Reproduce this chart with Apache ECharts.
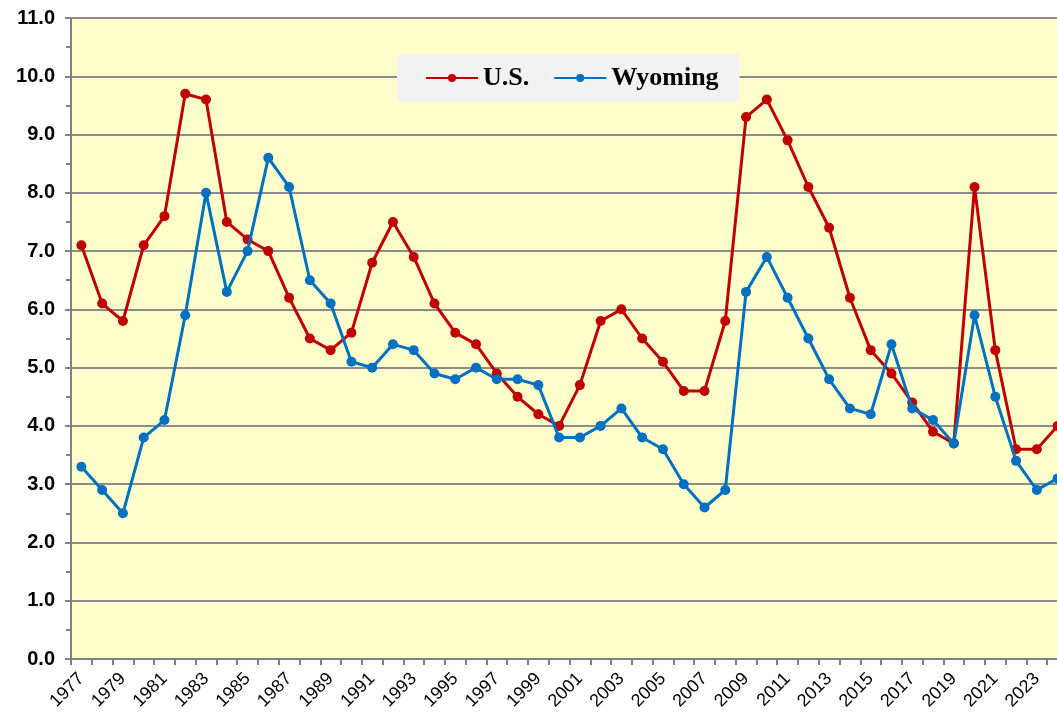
<!DOCTYPE html>
<html><head><meta charset="utf-8">
<script src="https://cdn.jsdelivr.net/npm/echarts@6/dist/echarts.min.js"></script>
<style>html,body{margin:0;padding:0;background:#fff}#c{width:1057px;height:715px}</style>
</head><body><div id="c"></div>
<script>
const years = [];
for (let y = 1977; y <= 2024; y++) years.push(String(y));
const usValues = [7.1,6.1,5.8,7.1,7.6,9.7,9.6,7.5,7.2,7.0,6.2,5.5,5.3,5.6,6.8,7.5,6.9,6.1,5.6,5.4,4.9,4.5,4.2,4.0,4.7,5.8,6.0,5.5,5.1,4.6,4.6,5.8,9.3,9.6,8.9,8.1,7.4,6.2,5.3,4.9,4.4,3.9,3.7,8.1,5.3,3.6,3.6,4.0];
const wyValues = [3.3,2.9,2.5,3.8,4.1,5.9,8.0,6.3,7.0,8.6,8.1,6.5,6.1,5.1,5.0,5.4,5.3,4.9,4.8,5.0,4.8,4.8,4.7,3.8,3.8,4.0,4.3,3.8,3.6,3.0,2.6,2.9,6.3,6.9,6.2,5.5,4.8,4.3,4.2,5.4,4.3,4.1,3.7,5.9,4.5,3.4,2.9,3.1];
const seriesNames = ['U.S.', 'Wyoming'];

const chart = echarts.init(document.getElementById('c'));
chart.setOption({
  animation: false,
  backgroundColor: '#ffffff',
  grid: { left: 71, width: 997, top: 18, bottom: 56, show: true, backgroundColor: '#FFFFCC', borderWidth: 0,
          outerBoundsMode: 'none', containLabel: false },
  legend: {
    left: 397, top: 54,
    backgroundColor: '#F2F2F2',
    padding: [11, 21, 11, 28],
    itemGap: 24,
    itemWidth: 52, itemHeight: 10,
    textStyle: { fontFamily: 'Liberation Serif', fontWeight: 'bold', fontSize: 26, color: '#000' },
    data: seriesNames
  },
  xAxis: {
    type: 'category',
    data: years,
    boundaryGap: true,
    axisLine: { lineStyle: { color: '#808080', width: 2 } },
    axisTick: { show: true, interval: 0, length: 6, lineStyle: { color: '#808080', width: 2 } },
    axisLabel: { interval: 1, rotate: 45, fontFamily: 'Liberation Sans', fontSize: 18, color: '#000', margin: 17 },
    splitLine: { show: false }
  },
  yAxis: {
    type: 'value',
    min: 0, max: 11, interval: 1,
    axisLine: { show: true, lineStyle: { color: '#808080', width: 2 } },
    axisTick: { show: true, length: 6, lineStyle: { color: '#808080', width: 2 } },
    minorTick: { show: true, splitNumber: 2, length: 5, lineStyle: { color: '#808080', width: 2 } },
    axisLabel: { formatter: v => v.toFixed(1), fontFamily: 'Liberation Sans', fontWeight: 'bold', fontSize: 20, color: '#000', margin: 16 },
    splitLine: { show: true, lineStyle: { color: '#8C8C8C', width: 2 } }
  },
  series: [
    { name: seriesNames[0], type: 'line', data: usValues, symbol: 'circle', symbolSize: 10,
      itemStyle: { color: '#C00000' }, lineStyle: { color: '#C00000', width: 3 }, z: 2 },
    { name: seriesNames[1], type: 'line', data: wyValues, symbol: 'circle', symbolSize: 10,
      itemStyle: { color: '#0070C0' }, lineStyle: { color: '#0070C0', width: 3 }, z: 3 }
  ]
});
</script></body></html>
